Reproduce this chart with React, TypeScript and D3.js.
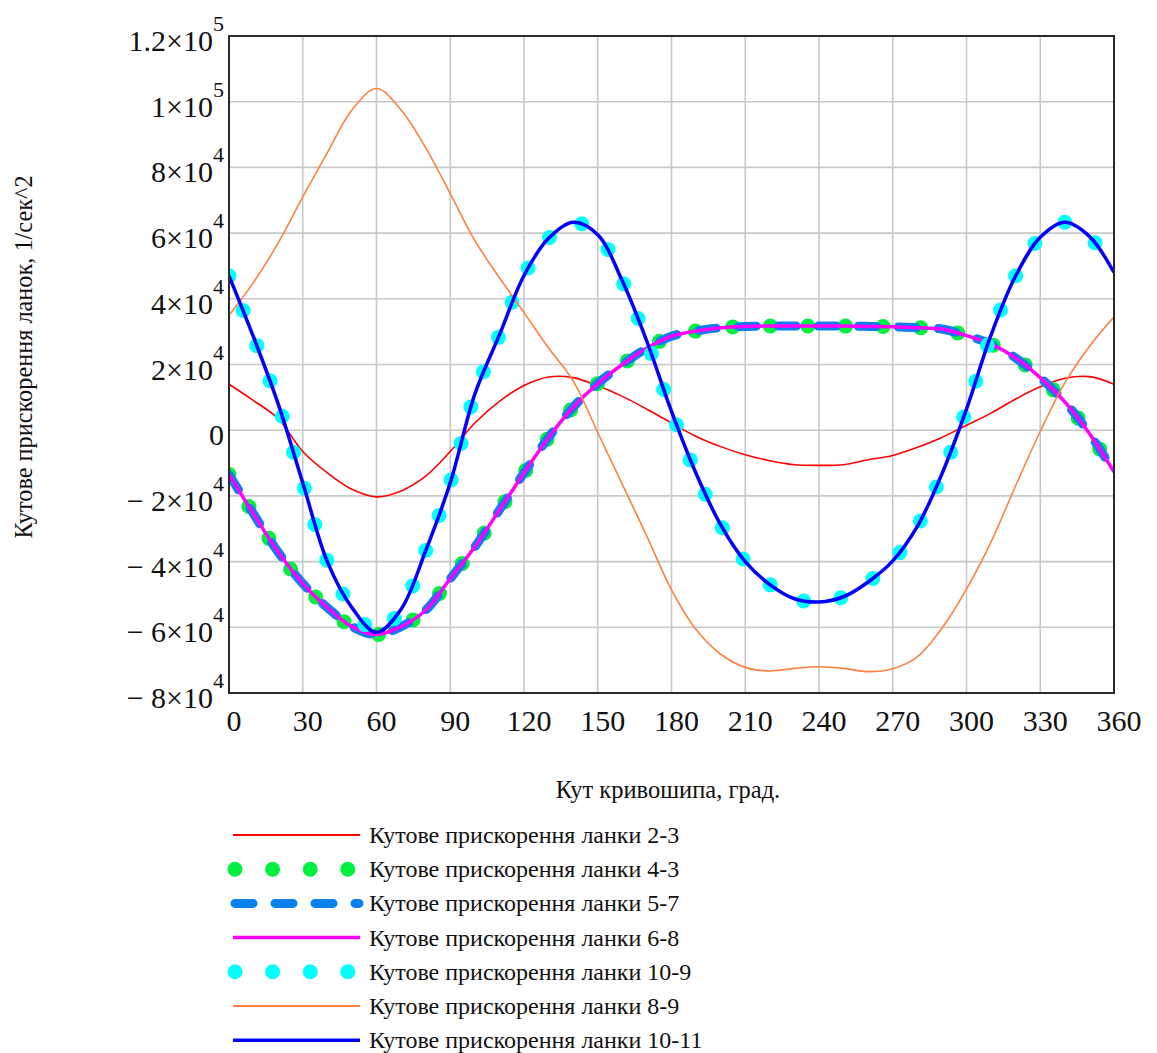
import React, { useEffect, useRef } from 'react';
import * as d3 from 'd3';

// crank angle, degrees
const angles = [0, 10, 20, 30, 40, 50, 60, 70, 80, 90, 100, 110, 120, 130, 140, 150, 160, 170, 180,
  190, 200, 210, 220, 230, 240, 250, 260, 270, 280, 290, 300, 310, 320, 330, 340, 350, 360];

// angular accelerations of the links, 1/s^2
const acc23 = [14000, 9000, 3500, -6500, -13000, -18000, -20300, -18500, -14000, -6500, 2200, 8800, 13600,
  16200, 16000, 13500, 10300, 6400, 2200, -1900, -5000, -7500, -9300, -10500, -10700, -10500, -9000, -7700,
  -5200, -2200, 1500, 5200, 9500, 13200, 15800, 16300, 14000];

const acc68 = [-13500, -25500, -37100, -46700, -54000, -59800, -62200, -59800, -54800, -45200, -35500, -24300,
  -13000, -2200, 7000, 14200, 20000, 25000, 28600, 30200, 31200, 31600, 31700, 31700, 31700, 31700, 31600,
  31500, 31200, 30800, 28800, 26200, 22000, 16000, 8600, -1000, -12700];

// links 4-3 and 5-7 lie on top of 6-8
const acc43 = acc68;
const acc57 = acc68;

const acc1011 = [47000, 28300, 8000, -16000, -40000, -54000, -61500, -54500, -36700, -16000, 11000, 29000,
  47100, 58400, 63300, 59500, 45400, 27000, 5700, -13200, -28800, -40000, -47000, -51300, -52300, -50700,
  -46200, -39800, -29300, -13300, 6400, 29000, 47000, 58700, 63300, 59000, 48000];

// link 10-9 coincides with 10-11
const acc109 = acc1011;

const acc89 = [35000, 45000, 57000, 71000, 84500, 97500, 104000, 97500, 86000, 72000, 57700, 46400, 35800,
  25000, 15000, -700, -16500, -32300, -48600, -60700, -68200, -72200, -73300, -72500, -72000, -72500, -73500,
  -72600, -69000, -60300, -48400, -34000, -16900, -400, 14400, 25500, 34500];

const xTicks = [0, 30, 60, 90, 120, 150, 180, 210, 240, 270, 300, 330, 360];
const yTicks = [-80000, -60000, -40000, -20000, 0, 20000, 40000, 60000, 80000, 100000, 120000];
const yTickText = ['\u2212 8\u00d710', '\u2212 6\u00d710', '\u2212 4\u00d710', '\u2212 2\u00d710', '0',
  '2\u00d710', '4\u00d710', '6\u00d710', '8\u00d710', '1\u00d710', '1.2\u00d710'];
const yTickExp = ['4', '4', '4', '4', '', '4', '4', '4', '4', '5', '5'];

const names = ['Кутове прискорення ланки 2-3', 'Кутове прискорення ланки 4-3', 'Кутове прискорення ланки 5-7',
  'Кутове прискорення ланки 6-8', 'Кутове прискорення ланки 10-9', 'Кутове прискорення ланки 8-9',
  'Кутове прискорення ланки 10-11'];

const FONT = '"Liberation Serif", "Times New Roman", serif';

export default function App() {
  const ref = useRef<SVGSVGElement>(null);

  useEffect(() => {
    const svg = d3.select(ref.current);
    svg.selectAll('*').remove();

    const left = 229, right = 1114, top = 36, bottom = 693;
    const x = d3.scaleLinear().domain([0, 360]).range([left, right]);
    const y = d3.scaleLinear().domain([-80000, 120000]).range([bottom, top]);

    const traces = [
      { values: acc23, color: '#ff0000', width: 1.6, dash: null, legW: 2 },
      { values: acc43, color: '#00f040', width: 15, dash: '0 37.6', legW: 15 },
      { values: acc57, color: '#0a80f0', width: 9, dash: '18 22', legW: 9 },
      { values: acc68, color: '#ff00ff', width: 3.5, dash: null, legW: 3.5 },
      { values: acc109, color: '#00ffff', width: 15, dash: '0 37.6', legW: 15 },
      { values: acc89, color: '#ff8040', width: 1.6, dash: null, legW: 2.2 },
      { values: acc1011, color: '#0000ff', width: 3.5, dash: null, legW: 3.5 },
    ];

    svg.append('defs').append('clipPath').attr('id', 'plotclip')
      .append('rect').attr('x', left).attr('y', top)
      .attr('width', right - left).attr('height', bottom - top);

    // grid
    const grid = svg.append('g').attr('stroke', '#c8c8c8').attr('stroke-width', 1.6);
    grid.selectAll('.gx').data(xTicks).enter().append('line')
      .attr('x1', d => x(d)).attr('x2', d => x(d)).attr('y1', top).attr('y2', bottom);
    grid.selectAll('.gy').data(yTicks).enter().append('line')
      .attr('y1', d => y(d)).attr('y2', d => y(d)).attr('x1', left).attr('x2', right);

    const line = d3.line<number>()
      .x((d, i) => x(angles[i]))
      .y(d => y(d))
      .curve(d3.curveCatmullRom.alpha(0.5));

    const plot = svg.append('g').attr('clip-path', 'url(#plotclip)');
    traces.forEach(t => {
      const p = plot.append('path')
        .attr('d', line(t.values))
        .attr('fill', 'none')
        .attr('stroke', t.color)
        .attr('stroke-width', t.width)
        .attr('stroke-linecap', t.dash ? 'round' : 'butt')
        .attr('stroke-linejoin', 'round');
      if (t.dash) p.attr('stroke-dasharray', t.dash);
    });

    // frame
    svg.append('rect').attr('x', left).attr('y', top)
      .attr('width', right - left).attr('height', bottom - top)
      .attr('fill', 'none').attr('stroke', '#2a2a2a').attr('stroke-width', 2);

    // x tick labels
    svg.append('g').selectAll('text').data(xTicks).enter().append('text')
      .attr('x', d => x(d) + 5).attr('y', bottom + 38)
      .attr('text-anchor', 'middle')
      .attr('font-family', FONT).attr('font-size', 30).attr('fill', '#111')
      .text(d => d);

    // y tick labels with exponents
    const yl = svg.append('g').selectAll('text').data(yTicks).enter().append('text')
      .attr('x', 224).attr('y', d => y(d) + 15)
      .attr('text-anchor', 'end')
      .attr('font-family', FONT).attr('font-size', 30).attr('fill', '#111');
    yl.append('tspan').text((d, i) => yTickText[i]);
    yl.append('tspan').attr('dy', -20).attr('font-size', 22).text((d, i) => yTickExp[i]);

    // axis titles
    svg.append('text').attr('x', 668).attr('y', 798).attr('text-anchor', 'middle')
      .attr('font-family', FONT).attr('font-size', 24.5).attr('fill', '#111')
      .text('Кут кривошипа, град.');
    svg.append('text').attr('transform', 'translate(32,357) rotate(-90)')
      .attr('text-anchor', 'middle')
      .attr('font-family', FONT).attr('font-size', 24.3).attr('fill', '#111')
      .text('Кутове прискорення ланок, 1/сек^2');

    // legend
    const leg = svg.append('g');
    traces.forEach((t, i) => {
      const ly = 835 + i * 34.2;
      const dotted = t.dash === '0 37.6';
      const l = leg.append('line')
        .attr('x1', dotted ? 235 : t.dash ? 235 : 233)
        .attr('x2', dotted ? 350 : t.dash ? 359 : 360)
        .attr('y1', ly).attr('y2', ly)
        .attr('stroke', t.color).attr('stroke-width', t.legW)
        .attr('stroke-linecap', t.dash ? 'round' : 'butt');
      if (t.dash) l.attr('stroke-dasharray', t.dash);
      leg.append('text').attr('x', 369).attr('y', ly + 8)
        .attr('font-family', FONT).attr('font-size', 24).attr('fill', '#111')
        .text(names[i]);
    });
  }, []);

  return (
    <svg ref={ref} width={1157} height={1053}
      style={{ position: 'absolute', left: 0, top: 0, background: '#fff' }} />
  );
}
